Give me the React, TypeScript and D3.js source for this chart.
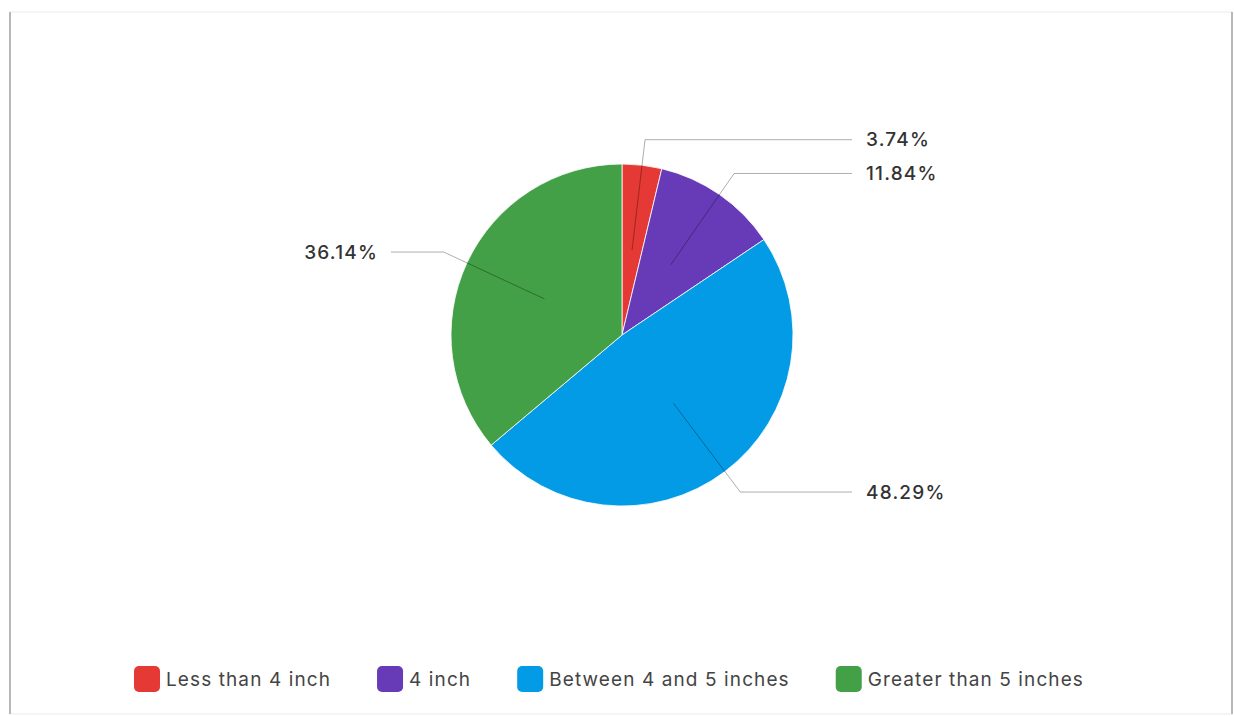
import React, { useEffect, useRef } from "react";
import * as d3 from "d3";

const categories = ["Less than 4 inch", "4 inch", "Between 4 and 5 inches", "Greater than 5 inches"];
const values = [3.74, 11.84, 48.29, 36.14];
const labels = ["3.74%", "11.84%", "48.29%", "36.14%"];
const colors = ["#E53935", "#673AB7", "#039BE5", "#43A047"];

const W = 1234;
const H = 716;
const FONT = "Inter, 'Open Sans', sans-serif";

export default function App() {
  const ref = useRef<SVGSVGElement | null>(null);

  useEffect(() => {
    const svg = d3.select(ref.current);
    svg.selectAll("*").remove();

    // card frame
    svg.append("rect").attr("x", 10).attr("y", 12).attr("width", 1222).attr("height", 702)
      .attr("fill", "#fff").attr("stroke", "#ececec").attr("stroke-width", 1);
    svg.append("line").attr("x1", 10).attr("x2", 10).attr("y1", 12).attr("y2", 714)
      .attr("stroke", "#b8b8b8").attr("stroke-width", 2);
    svg.append("line").attr("x1", 1232).attr("x2", 1232).attr("y1", 12).attr("y2", 714)
      .attr("stroke", "#b8b8b8").attr("stroke-width", 2);

    const cx = 622, cy = 335, r = 171;
    const data = categories.map((c, i) => ({ c, v: values[i], l: labels[i], col: colors[i] }));
    const pie = d3.pie<any>().value((d) => d.v).sort(null);
    const arcs = pie(data);
    const arc = d3.arc<any>().innerRadius(0).outerRadius(r);
    const g = svg.append("g").attr("transform", `translate(${cx},${cy})`);

    g.selectAll("path.slice").data(arcs).enter().append("path")
      .attr("class", "slice")
      .attr("d", arc as any)
      .attr("fill", (d: any) => d.data.col)
      .attr("stroke", "#fff").attr("stroke-width", 0.8);

    const inner = d3.arc<any>().innerRadius(r * 0.5).outerRadius(r * 0.5);
    const outer = d3.arc<any>().innerRadius(r * 1.15).outerRadius(r * 1.15);
    const xRight = 852 - cx, xLeft = 391 - cx;

    arcs.forEach((a: any) => {
      const p0 = inner.centroid(a);
      const p1 = outer.centroid(a);
      const mid = (a.startAngle + a.endAngle) / 2;
      const right = mid < Math.PI;
      const x2 = right ? xRight : xLeft;
      g.append("polyline")
        .attr("points", [p0, p1, [x2, p1[1]]].map((p) => p.join(",")).join(" "))
        .attr("fill", "none").attr("stroke", "rgba(0,0,0,0.32)").attr("stroke-width", 1);
      g.append("text")
        .attr("x", right ? x2 + 14 : x2 - 13)
        .attr("y", p1[1])
        .attr("dy", "0.35em")
        .attr("text-anchor", right ? "start" : "end")
        .attr("font-family", FONT).attr("font-size", 19).attr("font-weight", 500)
        .attr("letter-spacing", 1.2).attr("fill", "#333")
        .text(a.data.l);
    });

    // legend
    const lg = svg.append("g");
    const items = lg.selectAll("g").data(data).enter().append("g");
    items.append("rect").attr("width", 26).attr("height", 26).attr("rx", 5).attr("y", -13)
      .attr("fill", (d: any) => d.col);
    const texts = items.append("text").attr("x", 32).attr("dy", "0.35em")
      .attr("font-family", FONT).attr("font-size", 19).attr("letter-spacing", 1.1)
      .attr("fill", "#444")
      .text((d: any) => d.c);
    const widths: number[] = [];
    texts.each(function () { widths.push((this as SVGTextElement).getComputedTextLength()); });
    const itemW = widths.map((w) => 32 + w);
    const gap = 46;
    const total = d3.sum(itemW) + gap * (itemW.length - 1);
    let x = 609 - total / 2;
    items.each(function (_d, i) {
      d3.select(this).attr("transform", `translate(${x},679)`);
      x += itemW[i] + gap;
    });
  }, []);

  return (
    <svg ref={ref} width={W} height={H} style={{ position: "absolute", left: 0, top: 0, background: "#fff" }} />
  );
}
